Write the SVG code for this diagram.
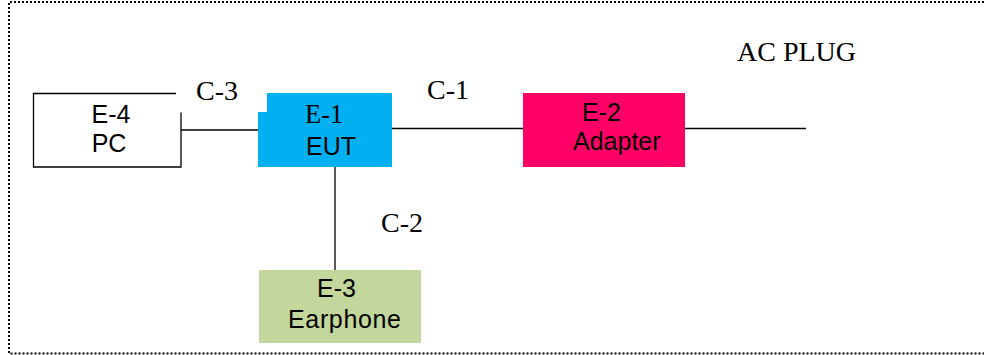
<svg xmlns="http://www.w3.org/2000/svg" width="984" height="355" viewBox="0 0 984 355">
<style>
.serif{font-family:"Liberation Serif","Times New Roman",serif;font-size:28px;fill:#000}
.sans{font-family:"Liberation Sans",Arial,sans-serif;font-size:25px;fill:#000}
.ln{stroke:#000;stroke-width:1.3;fill:none}
</style>
<rect width="984" height="355" fill="#fff"/>
<path d="M984,2 H9 V353.5 H984" fill="none" stroke="#000" stroke-width="2" stroke-dasharray="2 2"/>
<g id="connectors">
<line class="ln" x1="181" y1="130" x2="258" y2="130"/>
<line class="ln" x1="392" y1="128.5" x2="523" y2="128.5"/>
<line class="ln" x1="685" y1="128.5" x2="806" y2="128.5" stroke-width="1.6"/>
<line class="ln" x1="335" y1="167" x2="335" y2="270"/>
<text class="serif" x="196" y="100">C-3</text>
<text class="serif" x="427" y="99">C-1</text>
<text class="serif" x="381" y="232">C-2</text>
<text class="serif" x="737" y="61">AC PLUG</text>
</g>
<g id="E-4">
<path class="ln" d="M176,93.5 H33.5 V167 H181 V112.5"/>
<text class="sans" x="111" y="123" text-anchor="middle">E-4</text>
<text class="sans" x="109" y="152" text-anchor="middle">PC</text>
</g>
<g id="E-1">
<path d="M267,93 H392 V167 H258 V112 H267 Z" fill="#00B0F0"/>
<text class="serif" x="305" y="123" style="font-size:26.5px">E-1</text>
<text class="sans" x="306" y="155">EUT</text>
</g>
<g id="E-2">
<rect x="523" y="93" width="162" height="74" fill="#FF0066"/>
<text class="sans" x="582" y="121">E-2</text>
<text class="sans" x="573" y="150">Adapter</text>
</g>
<g id="E-3">
<rect x="259" y="270" width="162" height="73" fill="#C3D69B"/>
<text class="sans" x="317" y="297">E-3</text>
<text class="sans" x="288" y="328" textLength="113" lengthAdjust="spacing">Earphone</text>
</g>
</svg>
